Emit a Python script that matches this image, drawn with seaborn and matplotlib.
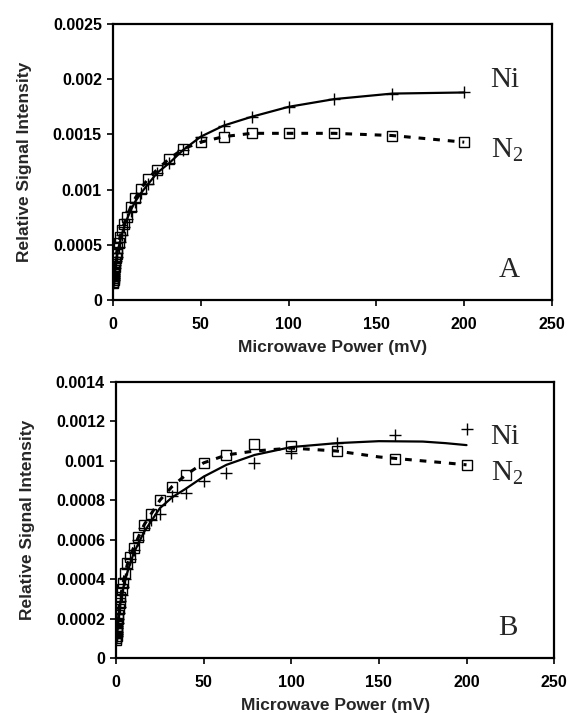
import numpy as np
import pandas as pd
import matplotlib.pyplot as plt
import seaborn as sns

# microwave power steps (mV), 1 dB attenuation steps
power = [200, 159, 126, 100, 79, 63, 50, 40, 32, 25, 20, 16, 12.6, 10, 7.9, 6.3,
         5, 4, 3.2, 2.5, 2, 1.6, 1.26, 1, 0.79, 0.63, 0.5, 0.4, 0.32, 0.25, 0.2]

# panel A
ni_a = [0.00188, 0.00187, 0.00182, 0.00175, 0.00166, 0.00158, 0.00148, 0.00136,
        0.00124, 0.00115, 0.00105, 0.00097, 0.00089, 0.00081, 0.00073, 0.00066,
        0.00059, 0.00053, 0.00048, 0.00043, 0.00039, 0.00035, 0.00032, 0.00029,
        0.00026, 0.00024, 0.00022, 0.00020, 0.00018, 0.00017, 0.00015]
n2_a = [0.00143, 0.00149, 0.00151, 0.00151, 0.00151, 0.00148, 0.00143, 0.00137,
        0.00128, 0.00118, 0.00110, 0.00101, 0.00092, 0.00084, 0.00075, 0.00069,
        0.00063, 0.00057, 0.00052, 0.00047, 0.00042, 0.00038, 0.00034, 0.00030,
        0.00027, 0.00024, 0.00022, 0.00020, 0.00018, 0.00016, 0.00015]

# panel B
ni_b = [0.00116, 0.00113, 0.00109, 0.00104, 0.00099, 0.00094, 0.00090, 0.000835,
        0.00082, 0.00073, 0.00070, 0.00066, 0.00060, 0.00055, 0.00050, 0.00045,
        0.00040, 0.00036, 0.00032, 0.00029, 0.00026, 0.00023, 0.00020, 0.00018,
        0.00016, 0.00015, 0.00013, 0.00012, 0.00011, 0.00010, 0.00010]
n2_b = [0.00098, 0.00101, 0.00105, 0.001075, 0.001085, 0.00103, 0.00099, 0.00093,
        0.00087, 0.00080, 0.00073, 0.000675, 0.000612, 0.00056, 0.00051, 0.00048,
        0.00043, 0.00038, 0.00035, 0.00031, 0.00028, 0.00025, 0.00022, 0.00020,
        0.00018, 0.00016, 0.00014, 0.00013, 0.00011, 0.00010, 0.00009]

# trend lines of panel B
fit_x_b = [0.2, 0.5, 1, 2, 4, 6.3, 10, 16, 25, 32, 40, 50, 63, 79, 100, 126, 150,
           175, 188, 200]
ni_fit_b = [0.00010, 0.00014, 0.00019, 0.00026, 0.00035, 0.00043, 0.00053, 0.00064,
            0.00076, 0.000815, 0.00086, 0.00092, 0.00098, 0.00103, 0.00107, 0.00109,
            0.00110, 0.001098, 0.00109, 0.00108]
n2_fit_b = [0.00009, 0.00014, 0.00020, 0.00028, 0.00038, 0.00047, 0.00056, 0.000675,
            0.00080, 0.00087, 0.00093, 0.00099, 0.00103, 0.00105, 0.001065, 0.00105,
            0.00102, 0.00100, 0.00099, 0.00098]

xticks = [0, 50, 100, 150, 200, 250]
yticks_a = [0, 0.0005, 0.001, 0.0015, 0.002, 0.0025]
ylabels_a = ['0', '0.0005', '0.001', '0.0015', '0.002', '0.0025']
yticks_b = [0, 0.0002, 0.0004, 0.0006, 0.0008, 0.001, 0.0012, 0.0014]
ylabels_b = ['0', '0.0002', '0.0004', '0.0006', '0.0008', '0.001', '0.0012', '0.0014']

sns.set_style('ticks')
plt.rcParams['font.family'] = ['Liberation Sans', 'DejaVu Sans']
plt.rcParams['mathtext.fontset'] = 'custom'
plt.rcParams['mathtext.rm'] = 'Liberation Serif'

fig = plt.figure(figsize=(5.69, 7.13), dpi=100)
ax1 = fig.add_axes([0.1986, 0.5792, 0.7716, 0.3871])
ax2 = fig.add_axes([0.2039, 0.0771, 0.7700, 0.3871])

dash = (0, (2.2, 2.6))


def draw_points(ax, ni, n2):
    sns.lineplot(x=power, y=ni, ax=ax, estimator=None, marker='+', linestyle='none',
                 ms=9, mec='black', mew=1, color='black', zorder=3)
    sns.lineplot(x=power, y=n2, ax=ax, estimator=None, marker='s', linestyle='none',
                 ms=7, mfc='none', mec='black', mew=1, color='black', zorder=3)


# panel A: lines through the points
sns.lineplot(x=power, y=ni_a, ax=ax1, estimator=None, color='black', lw=1.6, zorder=4)
sns.lineplot(x=power, y=n2_a, ax=ax1, estimator=None, color='black', lw=2.2,
             linestyle=dash, zorder=4)
draw_points(ax1, ni_a, n2_a)

# panel B: trend lines
sns.lineplot(x=fit_x_b, y=ni_fit_b, ax=ax2, estimator=None, color='black', lw=1.6, zorder=4)
sns.lineplot(x=fit_x_b, y=n2_fit_b, ax=ax2, estimator=None, color='black', lw=2.2,
             linestyle=dash, zorder=4)
draw_points(ax2, ni_b, n2_b)

serif = ['Liberation Serif', 'DejaVu Serif']
for ax, yt, yl, tag, pos in [(ax1, yticks_a, ylabels_a, 'A', (0.86, 0.797, 0.543, 0.109)),
                             (ax2, yticks_b, ylabels_b, 'B', (0.855, 0.80, 0.67, 0.109))]:
    ax.set_xlim(0, 250)
    ax.set_ylim(yt[0], yt[-1])
    ax.set_xticks(xticks)
    ax.set_xticklabels([str(t) for t in xticks])
    ax.set_yticks(yt)
    ax.set_yticklabels(yl)
    ax.tick_params(direction='out', length=4, width=1.2, labelsize=11.5, colors='black')
    ax.tick_params(axis='x', pad=8)
    ax.tick_params(axis='y', pad=4)
    for lab in ax.get_xticklabels() + ax.get_yticklabels():
        lab.set_fontweight('bold')
    for sp in ax.spines.values():
        sp.set_visible(True)
        sp.set_linewidth(1.6)
        sp.set_color('black')
    ax.set_xlabel('Microwave Power (mV)', fontsize=12.5, fontweight='bold', labelpad=6)
    ax.set_ylabel('Relative Signal Intensity', fontsize=12.5, fontweight='bold', labelpad=15)
    ax.text(pos[0], pos[1], 'Ni', transform=ax.transAxes, fontsize=21, family=serif,
            ha='left', va='center')
    ax.text(pos[0], pos[2], r'$\mathrm{N}_2$', transform=ax.transAxes, fontsize=21,
            ha='left', va='center')
    ax.text(pos[0] + 0.018, pos[3], tag, transform=ax.transAxes, fontsize=21, family=serif,
            ha='left', va='center')

fig.savefig('out.png', dpi=100)
